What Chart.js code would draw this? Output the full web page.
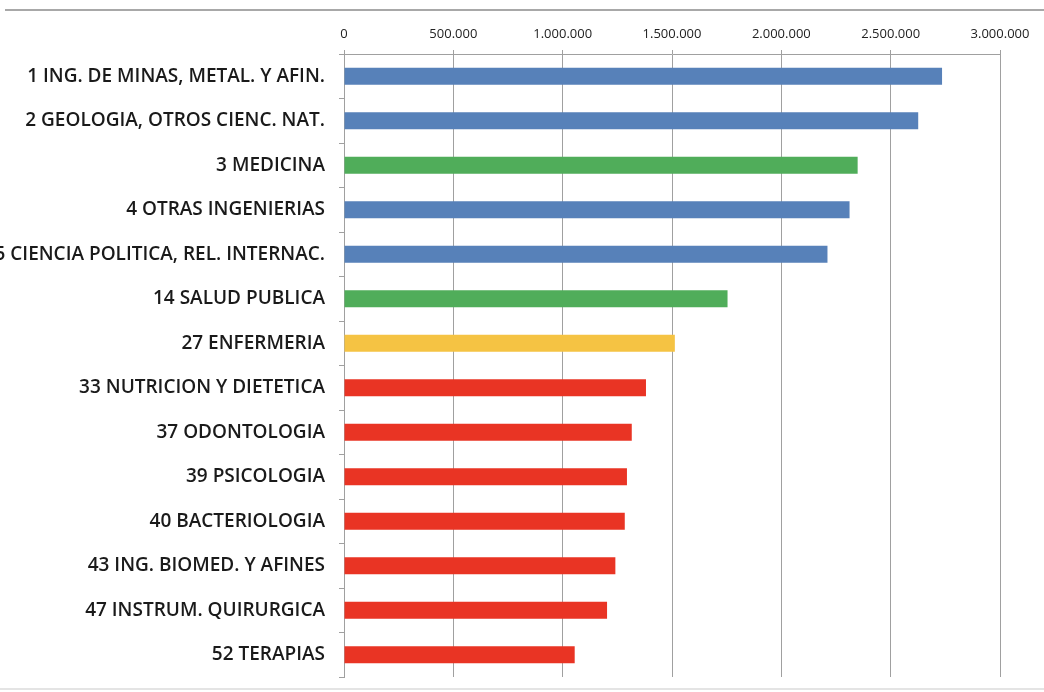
<!DOCTYPE html>
<html>
<head>
<meta charset="utf-8">
<script src="https://cdn.jsdelivr.net/npm/chart.js@4.4.1/dist/chart.umd.min.js"></script>
<style>
  html, body { margin: 0; padding: 0; background: #fff; }
  #wrap { position: relative; width: 1044px; height: 692px; overflow: hidden; }
  #topline { position: absolute; left: 5px; right: 0; top: 9px; height: 0; border-top: 2px solid #a8a8a8; }
  #bottomline { position: absolute; left: 0; right: 0; top: 688px; height: 0; border-top: 2px solid #e4e4e4; }
</style>
</head>
<body>
<div id="wrap">
  <canvas id="bar-chart" width="1044" height="692"></canvas>
  <div id="topline"></div>
  <div id="bottomline"></div>
</div>
<script>
var categories = [
    '1 ING. DE MINAS, METAL. Y AFIN.',
    '2 GEOLOGIA, OTROS CIENC. NAT.',
    '3 MEDICINA',
    '4 OTRAS INGENIERIAS',
    '5 CIENCIA POLITICA, REL. INTERNAC.',
    '14 SALUD PUBLICA',
    '27 ENFERMERIA',
    '33 NUTRICION Y DIETETICA',
    '37 ODONTOLOGIA',
    '39 PSICOLOGIA',
    '40 BACTERIOLOGIA',
    '43 ING. BIOMED. Y AFINES',
    '47 INSTRUM. QUIRURGICA',
    '52 TERAPIAS'
];
var values = [2735000, 2626000, 2349000, 2312000, 2211000, 1754000, 1513000,
              1381000, 1316000, 1294000, 1284000, 1241000, 1203000, 1055000];
var barColors = ['#5781b9', '#5781b9', '#50ad5a', '#5781b9', '#5781b9', '#50ad5a', '#f5c343',
                 '#e93424', '#e93424', '#e93424', '#e93424', '#e93424', '#e93424', '#e93424'];
var xTicks = [0, 500000, 1000000, 1500000, 2000000, 2500000, 3000000];

function dotted(n) {
    return String(n).replace(/\B(?=(\d{3})+(?!\d))/g, '.');
}

const canvas = document.getElementById('bar-chart');
new Chart(canvas, {
    type: 'bar',
    data: {
        labels: categories,
        datasets: [{
            data: values,
            backgroundColor: barColors,
            categoryPercentage: 1,
            barPercentage: 0.385
        }]
    },
    options: {
        indexAxis: 'y',
        responsive: false,
        animation: false,
        layout: {padding: {top: 10, right: 44, bottom: 15, left: 0}},
        plugins: {
            legend: {display: false},
            tooltip: {enabled: false}
        },
        scales: {
            x: {
                position: 'top',
                min: 0,
                max: 3000000,
                afterBuildTicks: function(scale) {
                    scale.ticks = xTicks.map(function(v) { return {value: v}; });
                },
                afterFit: function(scale) {
                    scale.height = 44;
                    scale.paddingLeft = 0;
                    scale.paddingRight = 0;
                },
                border: {color: '#a0a0a0', width: 1},
                grid: {color: '#a0a0a0', lineWidth: 1, tickLength: 4},
                ticks: {
                    color: '#222',
                    font: {family: 'Open Sans', size: 13},
                    padding: 8,
                    maxRotation: 0,
                    callback: function(v) { return dotted(v); }
                }
            },
            y: {
                afterFit: function(scale) {
                    scale.width = 344;
                    scale.paddingTop = 0;
                    scale.paddingBottom = 0;
                },
                border: {color: '#a0a0a0', width: 1},
                grid: {drawOnChartArea: false, color: '#a0a0a0', tickLength: 5, offset: true},
                ticks: {
                    color: '#1a1a1a',
                    font: {family: 'Open Sans', size: 19, weight: '600'},
                    padding: 14,
                    autoSkip: false
                }
            }
        }
    }
});
</script>
</body>
</html>
